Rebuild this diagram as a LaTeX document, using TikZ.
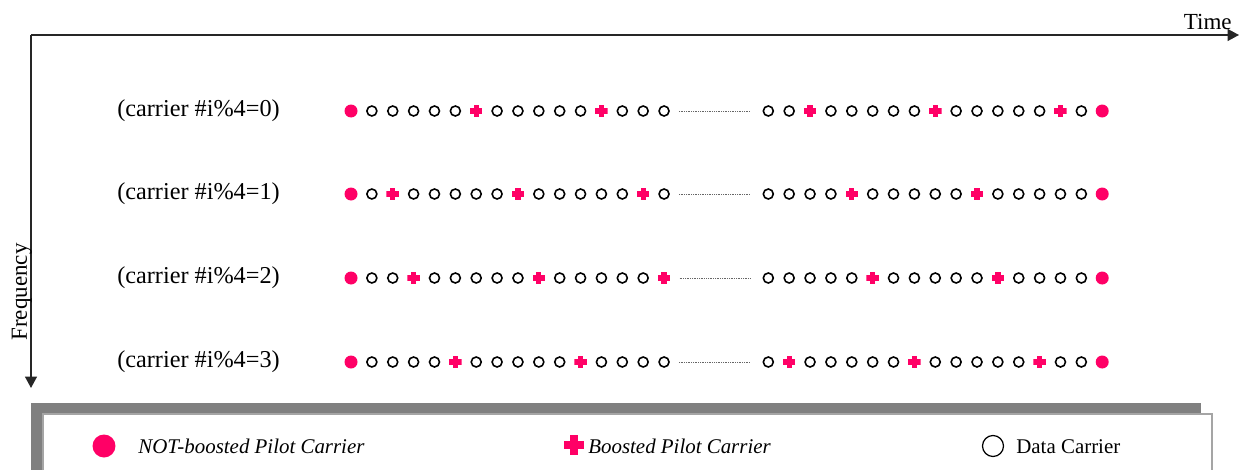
\documentclass[tikz,border=0pt]{standalone}
\usepackage{fontspec}
\setmainfont{Liberation Serif}
\usetikzlibrary{arrows.meta}
\definecolor{pilotred}{RGB}{255,0,102}
\definecolor{framegray}{RGB}{128,128,128}
\definecolor{edgegray}{RGB}{165,165,165}
\begin{document}
\begin{tikzpicture}[x=0.02cm,y=-0.02cm,
    pilot/.style={circle,fill=pilotred,inner sep=0pt,minimum size=0.26cm},
    data/.style={circle,draw=black,line width=0.9pt,inner sep=0pt,minimum size=0.2cm},
    boosted/.style={inner sep=0pt,minimum size=#1,path picture={
        \fill[pilotred] ([xshift={-0.5*#1},yshift={-0.21*#1}]path picture bounding box.center) rectangle ++(#1,{0.42*#1});
        \fill[pilotred] ([xshift={-0.21*#1},yshift={-0.5*#1}]path picture bounding box.center) rectangle ++({0.42*#1},#1);}},
    boosted/.default=0.25cm,
    rowlabel/.style={inner sep=0pt,font=\fontsize{13.8}{16}\selectfont},
    axislabel/.style={inner sep=0pt,font=\fontsize{13.1}{15}\selectfont},
    keytext/.style={inner sep=0pt,anchor=base west,font=\fontsize{11.9}{14}\selectfont},
    axis/.style={draw=black!85,line width=0.85pt,-{Triangle[length=0.23cm,width=0.24cm]}},
    gap/.style={draw=black!60,line width=0.5pt,dash pattern=on 0.5pt off 0.5pt,shorten <=0.18cm,shorten >=0.25cm}]
    \useasboundingbox (0,0) rectangle (1240,470);
    % axes
    \coordinate (origin) at (31,35);
    \coordinate (timeend) at (1239,35);
    \coordinate (freqend) at (31,388);
    \draw[axis] (origin) -- (timeend);
    \draw[axis] (origin) -- (freqend);
    \node[axislabel,anchor=base east] (time) at (1232,30) {Time};
    \node[axislabel,anchor=base,rotate=90] (freq) at (27,292) {Frequency};
    % carrier rows
    \foreach \r/\y/\lo/\ro in {0/111/0/2,1/194/2/4,2/278/3/5,3/362/5/1} {
        \node[rowlabel] (label\r) at (198.5,\y) {(carrier \#i\%4=\r)};
        \foreach \i in {0,...,15} {
            \pgfmathtruncatemacro\k{mod(\i-\lo+6,6)}
            \ifnum\i=0 \def\kind{pilot}\else\ifnum\k=0 \def\kind{boosted}\else\def\kind{data}\fi\fi
            \node[\kind] (l\r-\i) at ({351+20.87*\i},\y) {};
        }
        \foreach \j in {0,...,16} {
            \pgfmathtruncatemacro\k{mod(\j-\ro+6,6)}
            \ifnum\j=16 \def\kind{pilot}\else\ifnum\k=0 \def\kind{boosted}\else\def\kind{data}\fi\fi
            \node[\kind] (r\r-\j) at ({768.3+20.87*\j},\y) {};
        }
        \draw[gap] (l\r-15) -- (r\r-0);
    }
    % legend
    \fill[framegray] (31,403) rectangle (1201,470);
    \fill[white] (43,414) rectangle (1212,470);
    \draw[edgegray,line width=0.8pt] (43,470) -- (43,414) -- (1212,414) -- (1212,470);
    \node[pilot,minimum size=0.46cm] (keypilot) at (104,446) {};
    \node[keytext] (keypilottext) at (138,453) {\itshape NOT-boosted Pilot Carrier};
    \node[boosted=0.4cm] (keyboosted) at (574,445) {};
    \node[keytext] (keyboostedtext) at (588,453) {\itshape Boosted Pilot Carrier};
    \node[data,line width=0.7pt,minimum size=0.42cm] (keydata) at (993,446) {};
    \node[keytext] (keydatatext) at (1016,453) {Data Carrier};
\end{tikzpicture}
\end{document}
